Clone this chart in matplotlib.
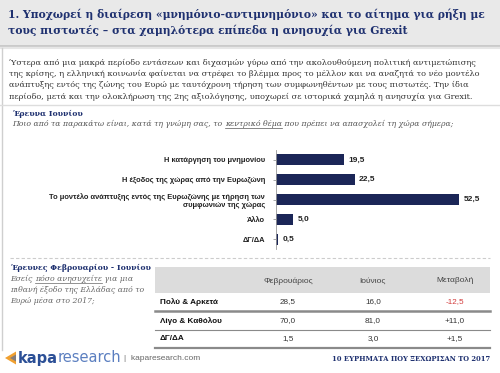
import matplotlib.pyplot as plt
from matplotlib.patches import Rectangle, Polygon
from matplotlib.lines import Line2D

W, H = 500, 373

# bar chart data (June survey)
categories = ["Η κατάργηση του μνημονίου",
              "Η έξοδος της χώρας από την Ευρωζώνη",
              "Το μοντέλο ανάπτυξης εντός της Ευρωζώνης με τήρηση των\nσυμφωνιών της χώρας",
              "Άλλο",
              "ΔΓ/ΔΑ"]
values = [19.5, 22.5, 52.5, 5.0, 0.5]

# table data (February vs June)
table_columns = ["Φεβρουάριος", "Ιούνιος", "Μεταβολή"]
table_rows = ["Πολύ & Αρκετά", "Λίγο & Καθόλου", "ΔΓ/ΔΑ"]
feb = [28.5, 70.0, 1.5]
jun = [16.0, 81.0, 3.0]

title_lines = ["1. Υποχωρεί η διαίρεση «μνημόνιο-αντιμνημόνιο» και το αίτημα για ρήξη με",
               "τους πιστωτές – στα χαμηλότερα επίπεδα η ανησυχία για Grexit"]
paragraph = ["Ύστερα από μια μακρά περίοδο εντάσεων και διχασμών γύρω από την ακολουθούμενη πολιτική αντιμετώπισης",
             "της κρίσης, η ελληνική κοινωνία φαίνεται να στρέφει το βλέμμα προς το μέλλον και να αναζητά το νέο μοντέλο",
             "ανάπτυξης εντός της ζώνης του Ευρώ με ταυτόχρονη τήρηση των συμφωνηθέντων με τους πιστωτές. Την ίδια",
             "περίοδο, μετά και την ολοκλήρωση της 2ης αξιολόγησης, υποχωρεί σε ιστορικά χαμηλά η ανησυχία για Grexit."]

NAVY = "#1b2657"
BLUE = "#1f3170"
SERIF = ["DejaVu Serif"]
SANS = ["Liberation Sans", "DejaVu Sans"]


def fx(x):
    return x / W


def fy(y):
    return 1 - y / H


fig = plt.figure(figsize=(5, 3.73), dpi=100)
fig.patch.set_facecolor("white")
renderer = fig.canvas.get_renderer()

# header band
fig.add_artist(Rectangle((0, fy(46)), 1, 46 / H, transform=fig.transFigure,
                         facecolor="#e9e9e9", edgecolor="none"))
fig.add_artist(Line2D([0, 1], [fy(46), fy(46)], transform=fig.transFigure,
                      color="#c4c4c4", lw=1.2))
fig.add_artist(Line2D([0, 1], [fy(48), fy(48)], transform=fig.transFigure,
                      color="#e6e6e6", lw=1.5))
for i, line in enumerate(title_lines):
    fig.text(fx(8), fy(14 + i * 16), line, family=SERIF, fontweight="bold",
             fontsize=7.75, color=BLUE, va="center")

# left border
fig.add_artist(Line2D([fx(1.5), fx(1.5)], [fy(48), fy(350)], transform=fig.transFigure,
                      color="#cfcfcf", lw=1))

for i, line in enumerate(paragraph):
    fig.text(fx(9), fy(63 + i * 11.2), line, family=SERIF, fontsize=5.95,
             color="#333333", va="center")

fig.add_artist(Line2D([0, 1], [fy(105), fy(105)], transform=fig.transFigure,
                      color="#dddddd", lw=1))

fig.text(fx(12), fy(114), "Έρευνα Ιουνίου", family=SERIF, fontweight="bold",
         fontsize=5.6, color=BLUE, va="center")


def text_parts(x, y, parts, **kw):
    # draw consecutive pieces of text, underline where asked
    for txt, under in parts:
        t = fig.text(fx(x), fy(y), txt, va="center", **kw)
        bb = t.get_window_extent(renderer)
        if under:
            fig.add_artist(Line2D([fx(x), fx(x + bb.width)], [fy(y + 3.5), fy(y + 3.5)],
                                  transform=fig.transFigure, color=kw.get("color"), lw=0.5))
        x += bb.width


text_parts(12, 124, [("Ποιο από τα παρακάτω είναι, κατά τη γνώμη σας, το ", False),
                     ("κεντρικό θέμα", True),
                     (" που πρέπει να απασχολεί τη χώρα σήμερα;", False)],
           family=SERIF, style="italic", fontsize=5.6, color="#555555")

# bar chart
ax = fig.add_axes([fx(276), fy(249), (490 - 276) / W, (249 - 150) / H])
ypos = list(range(len(values)))
ax.barh(ypos, values, height=0.56, color=NAVY)
ax.set_xlim(0, (490 - 276) / 3.49)
ax.set_ylim(len(values) - 0.5, -0.5)
for y, v in zip(ypos, values):
    ax.text(v + 1.3, y, f"{v:.1f}".replace(".", ","), va="center", ha="left",
            family=SANS, fontweight="bold", fontsize=6.0, color="#222222")
ax.set_yticks(ypos)
ax.set_yticklabels(categories, family=SANS, fontweight="bold", fontsize=5.4,
                   color="#222222", ha="right", multialignment="right")
ax.tick_params(axis="y", length=2, width=0.6, color="#999999", pad=6)
ax.set_xticks([])
for s in ["top", "right", "bottom"]:
    ax.spines[s].set_visible(False)
ax.spines["left"].set_color("#999999")
ax.spines["left"].set_linewidth(0.6)
ax.patch.set_alpha(0)

# dashed separator
fig.add_artist(Line2D([fx(10), fx(490)], [fy(258), fy(258)], transform=fig.transFigure,
                      color="#cccccc", lw=0.8, ls=(0, (3, 2))))

# left block of second survey
fig.text(fx(10), fy(268), "Έρευνες Φεβρουαρίου - Ιουνίου", family=SERIF,
         fontweight="bold", fontsize=5.6, color=BLUE, va="center")
text_parts(10, 279, [("Εσείς ", False), ("πόσο ανησυχείτε", True), (" για μια", False)],
           family=SERIF, style="italic", fontsize=5.6, color="#666666")
fig.text(fx(10), fy(290), "πιθανή έξοδο της Ελλάδας από το", family=SERIF,
         style="italic", fontsize=5.6, color="#666666", va="center")
fig.text(fx(10), fy(301), "Ευρώ μέσα στο 2017;", family=SERIF,
         style="italic", fontsize=5.6, color="#666666", va="center")

# table
tab_x0, tab_x1 = 155, 490
col_x = [288, 373, 455]
fig.add_artist(Rectangle((fx(tab_x0), fy(293)), (tab_x1 - tab_x0) / W, (293 - 267) / H,
                         transform=fig.transFigure, facecolor="#dcdcdc", edgecolor="none"))
for cx, name in zip(col_x, table_columns):
    fig.text(fx(cx), fy(281), name, family=SANS, fontsize=6.0, color="#444444",
             ha="center", va="center")
row_y = [302, 321, 339]
line_y = [310.5, 330, 348]
line_w = [1.8, 0.8, 1.6]
for ry, ly, lw, name, a, b in zip(row_y, line_y, line_w, table_rows, feb, jun):
    change = b - a
    fig.text(fx(160), fy(ry), name, family=SANS, fontweight="bold", fontsize=5.9,
             color="#111111", va="center")
    fig.text(fx(col_x[0]), fy(ry), f"{a:.1f}".replace(".", ","), family=SANS,
             fontsize=5.9, color="#333333", ha="center", va="center")
    fig.text(fx(col_x[1]), fy(ry), f"{b:.1f}".replace(".", ","), family=SANS,
             fontsize=5.9, color="#333333", ha="center", va="center")
    fig.text(fx(col_x[2]), fy(ry), f"{change:+.1f}".replace(".", ","), family=SANS,
             fontsize=5.9, color="#d23a3a" if change < 0 else "#333333",
             ha="center", va="center")
    fig.add_artist(Line2D([fx(tab_x0), fx(tab_x1)], [fy(ly), fy(ly)],
                          transform=fig.transFigure, color="#8a8a8a", lw=lw))

# footer logo
fig.add_artist(Polygon([(fx(5), fy(358)), (fx(16), fy(351.5)), (fx(16), fy(364.5))],
                       closed=True, transform=fig.transFigure, facecolor="#f0a030",
                       edgecolor="none"))
fig.add_artist(Polygon([(fx(10), fy(358)), (fx(16), fy(354.5)), (fx(16), fy(361.5))],
                       closed=True, transform=fig.transFigure, facecolor="#3a66b0",
                       edgecolor="none", alpha=0.6))
t = fig.text(fx(18), fy(358), "kapa", family=["DejaVu Sans"], fontweight="bold",
             fontsize=10.5, color="#2b4f96", va="center")
bb = t.get_window_extent(renderer)
x = 18 + bb.width
t = fig.text(fx(x), fy(358), "research", family=["DejaVu Sans"],
             fontsize=10.5, color="#5b7fc0", va="center")
bb = t.get_window_extent(renderer)
x += bb.width + 2
fig.text(fx(x), fy(358), "|  kaparesearch.com", family=SANS, fontsize=6,
         color="#666666", va="center")
fig.text(fx(490), fy(359), "10 ΕΥΡΗΜΑΤΑ ΠΟΥ ΞΕΧΩΡΙΣΑΝ ΤΟ 2017", family=SERIF,
         fontweight="bold", fontsize=4.9, color=BLUE, ha="right", va="center")

fig.savefig("out.png", dpi=100)
